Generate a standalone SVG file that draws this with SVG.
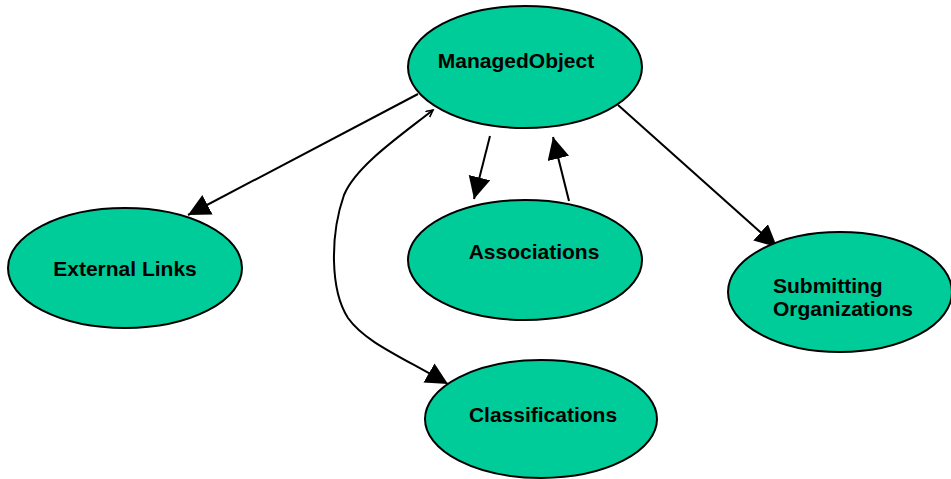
<svg xmlns="http://www.w3.org/2000/svg" width="951" height="479" viewBox="0 0 951 479">
  <style>
    .node ellipse { fill: #00CC99; stroke: #000000; stroke-width: 2; }
    .node text { font-family: "Liberation Sans", Arial, sans-serif; font-weight: bold; font-size: 21px; fill: #000000; }
    .edge { fill: none; stroke: #000000; stroke-width: 2; }
  </style>
  <defs>
    <marker id="arrow" markerUnits="userSpaceOnUse" markerWidth="24" markerHeight="24" refX="22" refY="11" orient="auto" viewBox="0 0 24 24">
      <path d="M0,0 L22,11 L0,22 z" fill="#000000"/>
    </marker>
    <marker id="open" markerUnits="userSpaceOnUse" markerWidth="10" markerHeight="10" refX="7" refY="4" orient="auto-start-reverse" viewBox="0 0 10 10">
      <path d="M0,0.5 L7,4 L0,7.5" fill="none" stroke="#000000" stroke-width="1.6"/>
    </marker>
  </defs>

  <rect x="0" y="0" width="951" height="479" fill="#ffffff"/>

  <g id="connectors">
    <line class="edge" x1="418" y1="94" x2="188" y2="215" marker-end="url(#arrow)"/>
    <line class="edge" x1="490" y1="136" x2="474" y2="199" marker-end="url(#arrow)"/>
    <line class="edge" x1="569" y1="201" x2="553" y2="137" marker-end="url(#arrow)"/>
    <line class="edge" x1="618" y1="105" x2="777" y2="247" marker-end="url(#arrow)"/>
    <path class="edge" d="M433,110 C400,136 356,166 344,195 C330,235 330,290 348,318 C365,342 400,356 448,384" marker-start="url(#open)" marker-end="url(#arrow)"/>
  </g>

  <g id="managed-object" class="node">
    <ellipse cx="525" cy="67" rx="117" ry="61"/>
    <text x="516" y="68" text-anchor="middle">ManagedObject</text>
  </g>

  <g id="external-links" class="node">
    <ellipse cx="125" cy="268" rx="117" ry="60"/>
    <text x="125" y="276" text-anchor="middle">External Links</text>
  </g>

  <g id="associations" class="node">
    <ellipse cx="525" cy="260" rx="117" ry="60"/>
    <text x="534" y="259" text-anchor="middle">Associations</text>
  </g>

  <g id="submitting-organizations" class="node">
    <ellipse cx="840" cy="292" rx="112" ry="60"/>
    <text x="773" y="293">Submitting</text>
    <text x="773" y="316">Organizations</text>
  </g>

  <g id="classifications" class="node">
    <ellipse cx="541" cy="419" rx="116" ry="59"/>
    <text x="543" y="422" text-anchor="middle">Classifications</text>
  </g>
</svg>
